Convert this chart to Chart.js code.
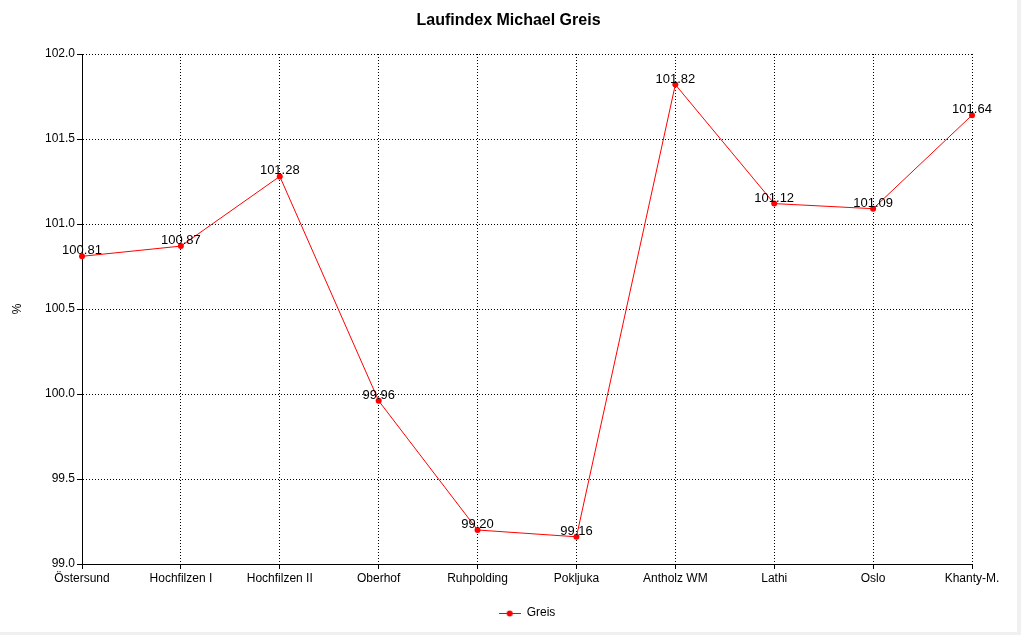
<!DOCTYPE html>
<html>
<head>
<meta charset="utf-8">
<script src="https://cdn.jsdelivr.net/npm/chart.js@4/dist/chart.umd.min.js"></script>
<style>
  html, body { margin: 0; padding: 0; background: #f0f0f0; }
  #wrap { position: absolute; left: 0; top: 0; width: 1017px; height: 632px; background: #ffffff; }
</style>
</head>
<body>
<div id="wrap"><canvas id="c" width="1017" height="632"></canvas></div>
<script>
const categories = ['Östersund', 'Hochfilzen I', 'Hochfilzen II', 'Oberhof', 'Ruhpolding', 'Pokljuka', 'Antholz WM', 'Lathi', 'Oslo', 'Khanty-M.'];
const greisValues = [100.81, 100.87, 101.28, 99.96, 99.20, 99.16, 101.82, 101.12, 101.09, 101.64];
const seriesName = 'Greis';
const chartTitle = 'Laufindex Michael Greis';
const yAxisTitle = '%';
const yMin = 99.0, yMax = 102.0, yStep = 0.5;

const FONT = '"Liberation Sans", Arial, sans-serif';

// legend symbol: line with dot
const legendSym = document.createElement('canvas');
legendSym.width = 22; legendSym.height = 8;
(function () {
  const g = legendSym.getContext('2d');
  g.strokeStyle = '#ff0000'; g.lineWidth = 1;
  g.beginPath(); g.moveTo(0, 4.5); g.lineTo(22, 4.5); g.stroke();
  g.fillStyle = '#ff0000';
  g.beginPath(); g.arc(11, 4.5, 3, 0, Math.PI * 2); g.fill();
})();

const valueLabels = {
  id: 'valueLabels',
  afterDatasetsDraw(chart) {
    const ctx = chart.ctx;
    const meta = chart.getDatasetMeta(0);
    ctx.save();
    ctx.font = '13px ' + FONT;
    ctx.fillStyle = '#000000';
    ctx.textAlign = 'center';
    ctx.textBaseline = 'alphabetic';
    meta.data.forEach((pt, i) => {
      ctx.fillText(chart.data.datasets[0].data[i].toFixed(2), pt.x, pt.y - 2);
    });
    ctx.restore();
  }
};

new Chart(document.getElementById('c'), {
  type: 'line',
  data: {
    labels: categories,
    datasets: [{
      label: seriesName,
      data: greisValues,
      borderColor: '#ff0000',
      backgroundColor: '#ff0000',
      borderWidth: 1,
      pointRadius: 3,
      pointBackgroundColor: '#ff0000',
      pointBorderWidth: 0,
      tension: 0,
      fill: false,
      yAxisID: 'y'
    }]
  },
  options: {
    responsive: false,
    animation: false,
    devicePixelRatio: 1,
    layout: { padding: { left: 0, right: 0, top: 0, bottom: 3 } },
    font: { family: FONT },
    plugins: {
      title: {
        display: true,
        text: chartTitle,
        color: '#000000',
        font: { family: FONT, size: 16, weight: 'bold' },
        padding: { top: 11, bottom: 23.8 }
      },
      legend: {
        position: 'bottom',
        fullSize: false,
        labels: {
          color: '#000000',
          font: { family: FONT, size: 12 },
          usePointStyle: true,
          pointStyleWidth: 22,
          boxHeight: 12,
          padding: 10,
          generateLabels(chart) {
            const items = Chart.defaults.plugins.legend.labels.generateLabels(chart);
            items.forEach(it => { it.pointStyle = legendSym; });
            return items;
          }
        }
      },
      tooltip: { enabled: false }
    },
    scales: {
      x: {
        offset: false,
        grid: {
          color: '#000000',
          lineWidth: 1,
          tickBorderDash: [],
          tickColor: '#000000',
          tickLength: 5,
          drawTicks: true
        },
        border: { display: true, color: '#000000', width: 1, dash: [1, 2] },
        ticks: {
          color: '#000000',
          font: { family: FONT, size: 12 },
          maxRotation: 0,
          autoSkip: false,
          padding: 2
        },
        afterFit(scale) { scale.height = 33; }
      },
      y: {
        min: yMin,
        max: yMax,
        position: 'left',
        grid: {
          color: '#000000',
          lineWidth: 1,
          tickBorderDash: [],
          tickColor: '#000000',
          tickLength: 5
        },
        border: { display: true, color: '#000000', width: 1, dash: [1, 2] },
        ticks: {
          stepSize: yStep,
          color: '#000000',
          font: { family: FONT, size: 12 },
          padding: 2,
          callback: v => Number(v).toFixed(1)
        },
        title: {
          display: true,
          text: yAxisTitle,
          color: '#000000',
          font: { family: FONT, size: 12 },
          padding: { top: 10, bottom: 0 }
        },
        afterFit(scale) { scale.width = 82; }
      },
      yRightSpace: {
        type: 'linear',
        position: 'right',
        display: true,
        min: yMin,
        max: yMax,
        grid: { display: false, drawTicks: false },
        border: { display: false },
        ticks: { display: false },
        afterFit(scale) { scale.width = 45; }
      }
    }
  },
  plugins: [valueLabels]
});
</script>
</body>
</html>
